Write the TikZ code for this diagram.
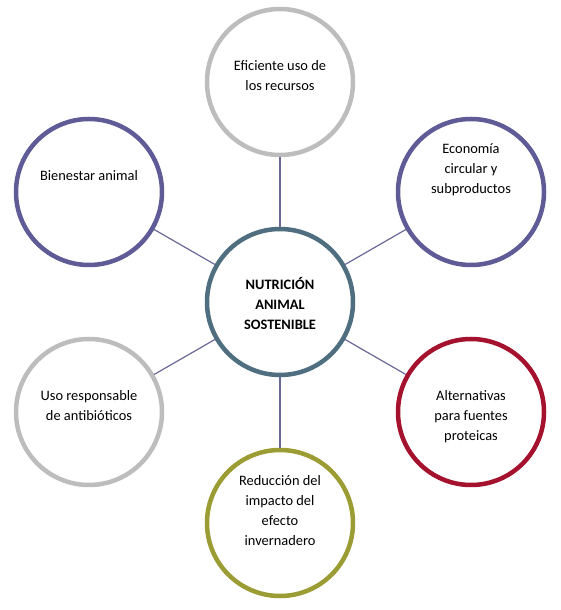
\documentclass[tikz,border=0pt]{standalone}
\usepackage{fontspec}
\setmainfont{Carlito}
\usepackage{tikz}
\usetikzlibrary{positioning}

\definecolor{hubblue}{HTML}{4F6E80}
\definecolor{leafgray}{HTML}{BDBDBD}
\definecolor{leafpurple}{HTML}{5E5B96}
\definecolor{leafred}{HTML}{A4122E}
\definecolor{leafolive}{HTML}{9C9C34}
\definecolor{spoke}{HTML}{6A6896}

\tikzset{
	leaf/.style={circle,draw,line width=4.5pt,minimum size=146pt,inner sep=0pt,fill=white},
	txt/.style={align=center,font=\fontsize{14.4pt}{20pt}\selectfont},
	link/.style={draw=spoke,line width=1.2pt}
}

\begin{document}
\begin{tikzpicture}[x=1pt,y=1pt]
	
	\useasboundingbox (0,0) rectangle (560,610);
	
	\node[leaf,draw=hubblue] (hub) at (280,308) {};
	\node[leaf,draw=leafgray] (eff) at (280,528) {};
	\node[leaf,draw=leafpurple] (eco) at (471,418) {};
	\node[leaf,draw=leafred] (alt) at (471,198) {};
	\node[leaf,draw=leafolive] (red) at (280,87) {};
	\node[leaf,draw=leafgray] (uso) at (89,198) {};
	\node[leaf,draw=leafpurple] (bie) at (89,418) {};
	
	\draw[link] (hub) -- (eff);
	\draw[link] (hub) -- (eco);
	\draw[link] (hub) -- (alt);
	\draw[link] (hub) -- (red);
	\draw[link] (hub) -- (uso);
	\draw[link] (hub) -- (bie);
	
	\node[txt,font=\fontsize{14.4pt}{20pt}\selectfont\bfseries] (hubtxt) at ([yshift=-2pt]hub.center) {NUTRICIÓN\\ANIMAL\\SOSTENIBLE};
	\node[txt] (efftxt) at ([yshift=6pt]eff.center) {Eficiente uso de\\los recursos};
	\node[txt] (ecotxt) at ([yshift=22pt]eco.center) {Economía\\circular y\\subproductos};
	\node[txt] (alttxt) at ([yshift=-5pt]alt.center) {Alternativas\\para fuentes\\proteicas};
	\node[txt] (redtxt) at ([yshift=12pt]red.center) {Reducción del\\impacto del\\efecto\\invernadero};
	\node[txt] (usotxt) at ([yshift=6pt]uso.center) {Uso responsable\\de antibióticos};
	\node[txt] (bietxt) at ([yshift=16pt]bie.center) {Bienestar animal};
	
\end{tikzpicture}
\end{document}
